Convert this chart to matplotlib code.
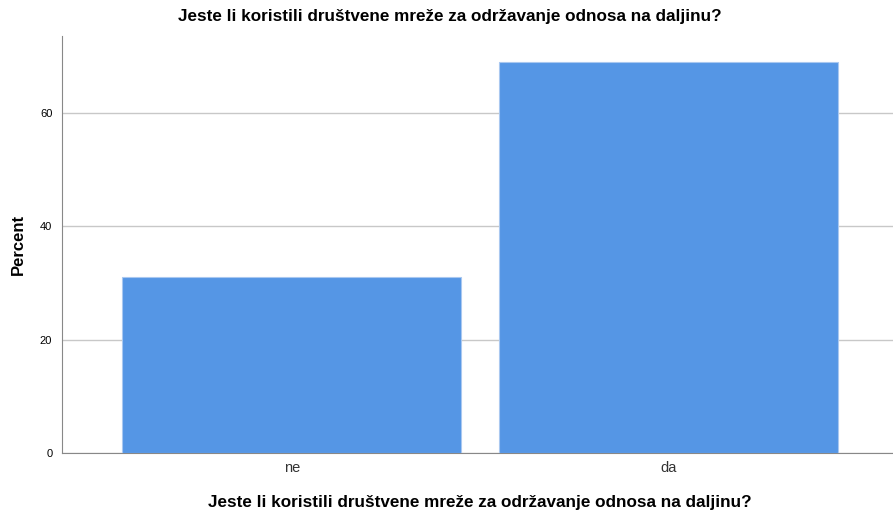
import matplotlib
matplotlib.use('Agg')
import matplotlib.pyplot as plt

plt.rcParams['font.family'] = ['Liberation Sans', 'DejaVu Sans']

# data
categories = ['ne', 'da']
percent = [31.0, 69.0]
y_ticks = [0, 20, 40, 60]

question = 'Jeste li koristili društvene mreže za održavanje odnosa na daljinu?'

fig = plt.figure(figsize=(8.93, 5.13), dpi=100)
ax = fig.add_axes([62 / 893, 60 / 513, 840 / 893, 417 / 513])

ax.bar(range(len(categories)), percent, width=0.9, color='#5596e5',
       edgecolor='#a9c8f0', linewidth=0.8, zorder=3)

ax.set_xlim(-0.61, 1.62)
ax.set_ylim(0, 73.6)
ax.set_yticks(y_ticks)
ax.set_xticks(range(len(categories)))
ax.set_xticklabels(categories, fontsize=10.5, color='#333333')
ax.tick_params(axis='y', length=0, labelsize=8, pad=7)
ax.tick_params(axis='x', length=0, pad=6)
ax.yaxis.grid(True, color='#c8c8c8', linewidth=1.0, zorder=0)

for s in ['top', 'right']:
    ax.spines[s].set_visible(False)
ax.spines['left'].set_color('#888888')
ax.spines['bottom'].set_color('#888888')

ax.set_ylabel('Percent', fontsize=12, fontweight='bold', labelpad=10)
fig.text(480 / 893, 1 - 502 / 513, question, ha='center', va='center',
         fontsize=12.3, fontweight='bold')
fig.text(450 / 893, 1 - 17 / 513, question, ha='center', va='center',
         fontsize=12.3, fontweight='bold')

fig.savefig('out.png', dpi=100)
